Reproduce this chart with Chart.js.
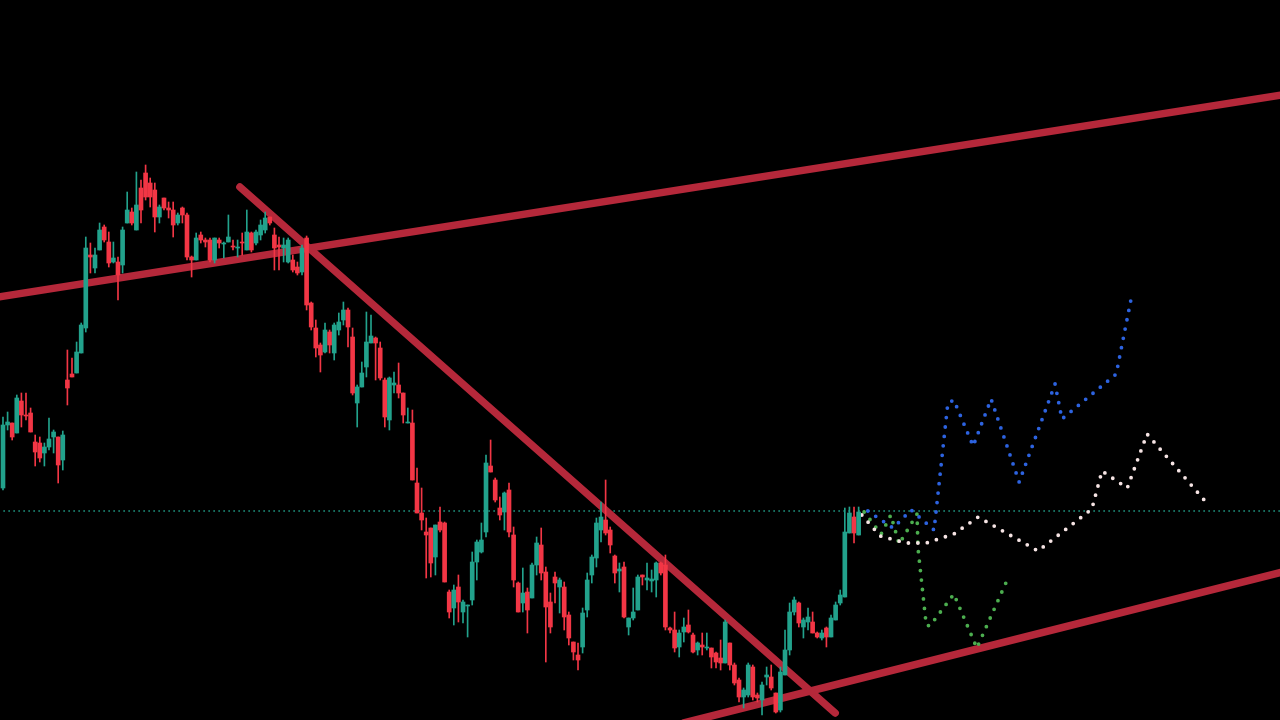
<!DOCTYPE html>
<html>
<head>
<meta charset="utf-8">
<script src="https://cdn.jsdelivr.net/npm/chart.js@4.4.1/dist/chart.umd.min.js"></script>
<style>
html,body{margin:0;padding:0;background:#000;overflow:hidden}
#wrap{position:relative;width:1280px;height:720px;background:#000}
</style>
</head>
<body>
<div id="wrap"><canvas id="c"></canvas></div>
<script>
// ---- candle data (bar index = position in arrays) ----
const opens = [51.2,57.5,57.7,56.7,59.9,58.5,58.7,55.8,55.7,54.7,
55.3,56.3,56.3,54.0,62.0,62.6,62.7,64.7,67.2,74.5,
73.2,75.0,77.3,75.8,73.8,73.8,73.5,77.7,78.8,77.0,
81.2,82.7,81.7,81.0,78.3,80.2,79.2,79.0,77.7,79.2,
78.5,74.3,74.0,76.5,76.0,76.0,74.0,76.0,75.6,75.8,
75.4,75.2,75.8,75.0,76.7,75.7,76.5,77.0,78.3,76.5,
75.5,75.2,73.8,74.0,73.3,72.8,76.2,69.7,67.2,65.5,
64.8,66.8,64.7,67.0,68.0,69.0,66.3,59.7,61.3,63.3,
65.7,66.2,65.2,62.0,58.0,61.5,61.5,60.7,57.7,57.7,
51.7,48.7,46.8,47.2,44.3,47.8,47.7,40.8,39.2,41.3,
38.8,39.4,40.0,43.8,44.8,46.8,53.4,52.0,49.2,48.8,
51.0,46.5,41.7,39.7,40.8,40.2,43.5,45.5,42.8,39.8,
42.3,41.3,41.3,38.5,35.8,34.5,35.3,39.0,42.5,44.2,
47.0,48.0,47.0,44.4,42.9,43.3,37.3,38.2,39.0,42.5,
42.0,41.9,42.0,43.7,43.5,37.2,37.0,35.3,36.8,37.5,
36.5,35.0,35.5,35.2,35.2,34.7,34.2,33.7,35.7,33.5,
32.0,30.3,30.5,33.3,30.5,30.0,32.3,32.3,30.7,29.0,
32.5,35.0,38.8,39.7,37.3,37.8,37.8,36.7,36.2,37.2,
36.3,38.0,39.7,40.3,46.7,48.3,46.5];
const highs = [58.3,58.8,57.7,60.5,60.7,60.7,59.2,56.5,56.3,55.7,
58.2,57.0,56.3,56.9,65.0,64.2,65.8,67.7,76.3,75.7,
75.2,77.7,77.5,76.8,75.8,74.3,77.3,80.8,79.2,82.8,
82.0,83.5,82.2,81.7,79.5,80.2,79.8,79.8,78.7,79.3,
78.7,74.4,76.7,76.8,76.2,76.2,76.2,76.2,75.8,78.5,
76.0,76.0,76.7,79.0,76.8,77.0,78.0,78.8,78.3,77.2,
76.3,76.2,76.2,74.5,73.8,75.5,76.4,69.8,68.0,65.7,
67.7,67.0,67.7,68.7,69.8,69.2,67.2,61.5,63.8,68.8,
68.5,66.3,65.8,62.2,62.3,62.8,63.7,60.7,59.2,59.0,
53.2,51.2,48.2,47.2,47.5,49.3,47.8,41.0,41.5,42.5,
40.0,39.5,44.8,46.0,47.7,54.5,56.0,52.2,50.3,50.8,
51.7,47.3,41.8,43.2,41.2,43.7,46.3,47.2,43.3,40.7,
42.8,42.2,41.8,38.8,35.8,35.7,39.2,42.7,44.5,48.2,
49.8,52.0,47.3,44.5,43.7,43.8,38.2,41.2,42.5,42.5,
43.7,43.0,43.8,43.8,44.5,37.3,38.8,37.0,38.2,39.0,
36.7,35.8,36.7,36.7,35.2,34.8,36.0,38.0,35.7,33.7,
32.2,31.2,33.7,33.5,30.7,31.8,33.3,33.5,30.7,33.3,
37.0,39.7,40.3,39.8,38.2,39.2,38.8,36.8,37.0,37.3,
38.5,39.8,41.0,49.2,49.3,49.3,49.3];
const lows = [51.0,57.0,56.0,56.7,57.3,58.0,56.8,53.4,53.8,53.4,
55.0,54.7,51.7,53.0,59.5,62.3,62.7,64.7,66.8,72.7,
72.7,75.0,75.8,73.3,73.7,70.0,72.7,77.7,77.5,77.0,
77.7,80.0,79.3,76.8,77.7,79.0,78.2,76.3,77.5,77.7,
74.0,72.3,74.0,75.7,75.3,73.8,73.7,75.2,74.2,75.8,
75.0,74.3,74.5,75.0,74.8,75.5,76.0,76.7,77.5,73.0,
73.0,73.8,73.7,72.8,72.5,72.5,69.0,67.0,64.3,62.8,
64.7,64.7,64.0,66.5,67.5,65.3,60.5,57.3,61.3,62.3,
65.7,62.0,62.0,57.3,57.0,60.7,60.2,57.7,57.7,52.0,
48.7,47.0,42.2,42.3,42.5,46.8,41.8,38.2,37.5,37.8,
37.7,36.3,39.5,42.0,44.7,46.3,52.8,49.8,48.0,47.0,
46.3,41.3,38.8,38.8,36.7,40.2,42.5,42.0,33.8,36.7,
39.7,38.7,37.0,35.5,34.0,33.0,34.7,38.3,41.7,43.3,
45.8,46.5,44.7,41.7,40.8,38.2,36.5,38.0,39.0,41.5,
41.0,40.8,40.3,42.5,37.0,36.7,34.8,34.3,35.8,36.7,
34.7,34.5,34.5,35.0,33.2,33.2,33.0,33.7,33.0,31.5,
29.8,29.2,30.3,30.0,29.8,28.5,31.5,31.0,28.7,28.8,
32.5,34.5,38.5,37.3,36.2,37.0,36.7,36.2,36.0,35.3,
36.3,38.0,39.5,40.3,46.7,45.7,46.5];
const closes = [57.5,57.8,56.3,60.2,58.5,58.4,56.8,54.8,54.2,55.3,
56.1,56.8,53.5,56.5,61.2,62.3,64.8,67.5,75.2,74.3,
74.5,77.0,76.0,73.7,74.2,72.5,77.0,79.0,77.7,79.5,
79.0,80.3,80.3,78.3,79.3,79.2,79.0,77.5,78.5,78.5,
74.3,74.0,76.2,76.0,75.8,74.0,76.2,75.7,75.7,76.3,
75.3,75.3,75.7,76.8,75.0,76.8,77.5,78.2,77.7,75.2,
75.3,75.5,76.0,73.0,72.7,75.2,69.5,67.3,65.2,64.5,
67.0,65.5,67.5,67.8,69.0,67.3,60.7,61.3,62.7,65.8,
66.4,65.7,62.2,58.3,62.2,61.7,60.7,58.5,57.8,52.0,
48.7,48.0,46.5,43.7,47.5,47.0,41.8,38.8,41.0,39.8,
39.8,39.5,43.8,45.8,46.0,53.7,52.8,50.0,48.5,50.7,
46.8,42.0,38.8,40.7,39.0,43.5,45.7,42.7,39.3,37.3,
41.7,42.0,38.3,36.2,34.8,34.0,38.7,42.0,44.3,47.7,
48.3,46.7,45.5,42.7,43.1,38.3,38.2,38.8,42.3,42.3,
42.2,42.1,43.7,42.7,37.3,37.0,35.2,36.7,37.3,36.8,
34.8,35.7,35.3,35.3,34.3,33.8,33.7,37.8,33.5,31.7,
30.3,31.0,33.5,30.3,30.2,31.5,32.5,31.2,28.8,32.8,
35.0,38.8,40.0,37.7,38.0,38.3,36.7,36.3,36.7,36.3,
38.2,39.5,40.5,46.8,48.7,46.7,48.8];

// ---- drawn trend lines (bar index, price) ----
const channelUpper = [{x:-1, y:70.3}, {x:278, y:90.5}];
const channelLower = [{x:148.0, y:27.7}, {x:279.8, y:43.0}];
const downTrend    = [{x:51.5, y:81.3}, {x:180.9, y:28.7}];
const lastPriceLevel = 48.9;

// ---- projected paths (future bar index, price) ----
const projBlue = [{x:188.0,y:48.9},{x:193.5,y:47.2},{x:197.4,y:49.0},{x:202.4,y:47.0},{x:205.4,y:59.7},{x:206.7,y:60.0},{x:210.9,y:55.4},{x:214.8,y:60.1},{x:220.9,y:51.8},{x:228.7,y:61.6},{x:230.2,y:58.1},{x:242.0,y:62.6},{x:245.4,y:70.5}];
const projWhite = [{x:186.7,y:48.5},{x:190.7,y:46.4},{x:196.3,y:45.7},{x:200.7,y:45.7},{x:206.7,y:46.6},{x:212.0,y:48.3},{x:225.0,y:44.9},{x:236.7,y:49.1},{x:238.9,y:52.9},{x:244.4,y:51.2},{x:248.7,y:56.6},{x:261.5,y:49.8}];
const projGreen = [{x:187.2,y:48.8},{x:190.9,y:46.6},{x:193.0,y:48.5},{x:194.8,y:45.6},{x:198.7,y:48.6},{x:198.9,y:45.2},{x:200.7,y:37.5},{x:201.5,y:37.4},{x:206.7,y:40.6},{x:211.7,y:35.2},{x:218.0,y:41.7}];

const UP = '#22a28c', DOWN = '#f23645', TREND = '#b5283a';
const idx = opens.map((_, i) => i);
const candleColors = idx.map(i => closes[i] >= opens[i] ? UP : DOWN);

const wickData = idx.map(i => ({x: i, y: [lows[i], highs[i]]}));
const bodyData = idx.map(i => ({x: i, y: [opens[i], closes[i]]}));

function trend(data) {
  return {type:'line', data, borderColor: TREND, borderWidth: 7.5, borderCapStyle:'round',
          pointRadius: 0, fill: false, tension: 0, order: 3};
}
function proj(data, color) {
  return {type:'line', data, borderColor: color, borderWidth: 3.8, borderCapStyle:'round',
          borderJoinStyle:'round', borderDash:[0, 9.5], pointRadius: 0, fill:false, tension:0, order: 1};
}

new Chart(document.getElementById('c'), {
  type: 'bar',
  data: {
    datasets: [
      {type:'bar', data: bodyData, backgroundColor: candleColors, barThickness: 4, minBarLength: 1, grouped: false, order: 0},
      {type:'bar', data: wickData, backgroundColor: candleColors, barThickness: 1, grouped: false, order: 0.5},
      proj(projBlue, '#2d63e0'),
      proj(projWhite, '#f6e4e4'),
      proj(projGreen, '#4cae4f'),
      trend(channelUpper),
      trend(channelLower),
      trend(downTrend),
      {type:'line', data:[{x:-1, y:lastPriceLevel},{x:279, y:lastPriceLevel}], borderColor:'#22a28c',
       borderWidth: 1.5, borderDash:[1.5, 3.5], pointRadius:0, fill:false, order: 4}
    ]
  },
  options: {
    responsive: true,
    maintainAspectRatio: false,
    animation: false,
    layout: {padding: 0},
    plugins: {legend: {display: false}, tooltip: {enabled: false}},
    scales: {
      x: {type: 'linear', min: -0.65, max: 277.6, offset: false, display: false},
      y: {type: 'linear', min: 28, max: 100, display: false}
    }
  }
});
</script>
</body>
</html>
